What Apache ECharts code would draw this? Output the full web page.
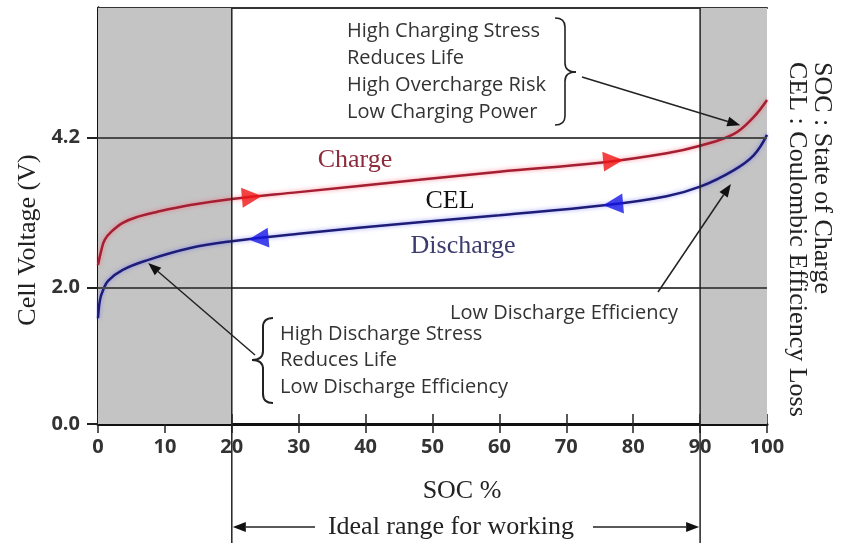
<!DOCTYPE html>
<html>
<head>
<meta charset="utf-8">
<script src="https://cdn.jsdelivr.net/npm/echarts@6/dist/echarts.min.js"></script>
<style>
html, body { margin: 0; padding: 0; background: #fff; }
#chart { width: 845px; height: 545px; }
</style>
</head>
<body>
<div id="chart"></div>
<script>
// SOC (%) / cell voltage (V)
const chargeSoc = [0, 0.5, 1, 2, 3.7, 6, 8.8, 13.8, 20, 30, 48, 60, 75, 85, 90, 95, 98, 100]
const chargeVolt = [2.33, 2.55, 2.70, 2.82, 2.95, 3.04, 3.11, 3.21, 3.30, 3.40, 3.58, 3.70, 3.83, 3.97, 4.08, 4.25, 4.50, 4.75]
const dischargeSoc = [0, 0.3, 0.75, 1.5, 3.7, 7.3, 13.8, 20, 30, 48, 60, 76, 85, 90, 95, 98, 100]
const dischargeVolt = [1.55, 1.82, 1.96, 2.10, 2.26, 2.40, 2.58, 2.68, 2.79, 2.96, 3.06, 3.21, 3.34, 3.48, 3.72, 3.94, 4.24]
// direction triangles sitting on the curves
const chargeArrowSoc = [23, 77]
const chargeArrowVolt = [3.33, 3.86]
const dischargeArrowSoc = [24, 77]
const dischargeArrowVolt = [2.72, 3.22]
// axis ticks and regions
const voltTicks = [0, 2.0, 4.2]
const shadedRanges = [[0, 20], [90, 100]]
const idealRange = [20, 90]
const yMax = 6.1

const zip = (a, b) => a.map((v, i) => [v, b[i]])

let chart = echarts.init(document.getElementById('chart'))

const serif = '"Liberation Serif", "Times New Roman", serif'
const sans = '"Open Sans", sans-serif'

chart.setOption({
    animation: false,
    grid: { left: 98, right: 78, top: 8, bottom: 121, outerBoundsMode: 'none' },
    xAxis: [
        {
            type: 'value', position: 'bottom', min: 0, max: 100, interval: 10,
            axisLine: { lineStyle: { color: '#111', width: 3 } },
            axisTick: { length: 9, lineStyle: { color: '#222', width: 1.5 } },
            axisLabel: { margin: 13, color: '#333', fontSize: 20, fontWeight: 'bold', fontFamily: sans },
            splitLine: { show: false }
        },
        {
            // inner half of the crossing ticks
            type: 'value', position: 'bottom', min: 0, max: 100, interval: 10,
            axisLine: { show: false },
            axisTick: { inside: true, length: 10, lineStyle: { color: '#222', width: 1.5 } },
            axisLabel: { show: false },
            splitLine: { show: false }
        },
        {
            // top border
            type: 'value', position: 'top', min: 0, max: 100,
            axisLine: { lineStyle: { color: '#333', width: 2 } },
            axisTick: { show: false }, axisLabel: { show: false }, splitLine: { show: false }
        }
    ],
    yAxis: [
        {
            type: 'value', position: 'left', min: 0, max: yMax,
            axisLine: { show: true, lineStyle: { color: '#111', width: 3 } },
            axisTick: { show: true, customValues: voltTicks, length: 11, lineStyle: { color: '#222', width: 2 } },
            axisLabel: {
                customValues: voltTicks, margin: 18, color: '#333', fontSize: 20, fontWeight: 'bold', fontFamily: sans,
                formatter: v => v.toFixed(1)
            },
            splitLine: { show: false }
        },
        {
            type: 'value', position: 'right', min: 0, max: yMax,
            axisLine: { show: true, lineStyle: { color: '#111', width: 3 } },
            axisTick: { show: false }, axisLabel: { show: false }, splitLine: { show: false }
        }
    ],
    series: [
        {
            // shaded stress zones + reference voltage lines
            type: 'line', data: [], z: 1, silent: true,
            markArea: {
                silent: true,
                itemStyle: { color: '#c4c4c4' },
                data: shadedRanges.map(r => [{ xAxis: r[0] }, { xAxis: r[1] }])
            },
            markLine: {
                silent: true, symbol: 'none', label: { show: false },
                lineStyle: { color: '#4a4a4a', width: 2, type: 'solid' },
                data: [{ yAxis: voltTicks[1] }, { yAxis: voltTicks[2] }]
            }
        },
        {
            name: 'Charge', type: 'line', z: 3,
            data: zip(chargeSoc, chargeVolt),
            smooth: 0.4, showSymbol: false,
            lineStyle: { color: '#a41f31', width: 2.5, shadowColor: 'rgba(255,90,110,0.7)', shadowBlur: 4 }
        },
        {
            name: 'Discharge', type: 'line', z: 3,
            data: zip(dischargeSoc, dischargeVolt),
            smooth: 0.4, showSymbol: false,
            lineStyle: { color: '#1d1d78', width: 2.5, shadowColor: 'rgba(90,90,255,0.6)', shadowBlur: 4 }
        },
        {
            type: 'scatter', z: 5, silent: true,
            data: zip(chargeArrowSoc, chargeArrowVolt),
            symbol: 'triangle', symbolSize: [20, 20], symbolRotate: -85,
            itemStyle: { color: '#f01515' }
        },
        {
            type: 'scatter', z: 5, silent: true,
            data: zip(dischargeArrowSoc, dischargeArrowVolt),
            symbol: 'triangle', symbolSize: [20, 20], symbolRotate: 95,
            itemStyle: { color: '#1515e6' }
        }
    ]
})

// ---- annotations drawn on top, placed through the axes ----
const px = p => chart.convertToPixel({ gridIndex: 0 }, p)

function arrow(x1, y1, x2, y2) {
    const a = Math.atan2(y2 - y1, x2 - x1)
    const L = 13, W = 5
    const bx = x2 - L * Math.cos(a), by = y2 - L * Math.sin(a)
    return [
        { type: 'line', z: 10, shape: { x1, y1, x2: bx, y2: by }, style: { stroke: '#222', lineWidth: 1.5 } },
        {
            type: 'polygon', z: 10,
            shape: { points: [[x2, y2], [bx + W * Math.sin(a), by - W * Math.cos(a)], [bx - W * Math.sin(a), by + W * Math.cos(a)]] },
            style: { fill: '#111' }
        }
    ]
}

// curly brace: bar at xBar, tip at xTip (middle), ends curl to xEnd
function brace(xEnd, xBar, xTip, yTop, yMid, yBot, width) {
    const st = { stroke: '#222', lineWidth: width, fill: null }
    const r = 9
    const q = (x1, y1, cx, cy, x2, y2) => ({ type: 'bezierCurve', z: 10, shape: { x1, y1, cpx1: cx, cpy1: cy, x2, y2 }, style: st })
    const l = (x1, y1, x2, y2) => ({ type: 'line', z: 10, shape: { x1, y1, x2, y2 }, style: st })
    return [
        q(xEnd, yTop, xBar, yTop, xBar, yTop + r),
        l(xBar, yTop + r, xBar, yMid - r),
        q(xBar, yMid - r, xBar, yMid, xTip, yMid),
        q(xTip, yMid, xBar, yMid, xBar, yMid + r),
        l(xBar, yMid + r, xBar, yBot - r),
        q(xBar, yBot - r, xBar, yBot, xEnd, yBot)
    ]
}

function text(str, x, y, opt) {
    return {
        type: 'text', z: 10, x, y, rotation: opt.rotation || 0,
        style: {
            text: str, fill: opt.color || '#333', fontSize: opt.size || 20, fontFamily: opt.font || sans,
            fontWeight: opt.weight || 'normal', lineHeight: opt.lineHeight,
            align: opt.align || 'center', verticalAlign: opt.valign || 'middle'
        }
    }
}

const topY = px([0, yMax])[1]
const xLo = px([idealRange[0], 0])[0]
const xHi = px([idealRange[1], 0])[0]
const bottomY = 543
const rangeY = 527

// tips of the annotation arrows, on the curves
const tipCharge = px([96, 4.38])
const tipDischargeLow = px([7.5, 2.36])
const tipDischargeHigh = px([94.6, 3.52])

let graphics = [
    { type: 'line', z: 10, shape: { x1: xLo, y1: topY, x2: xLo, y2: bottomY }, style: { stroke: '#222', lineWidth: 1.5 } },
    { type: 'line', z: 10, shape: { x1: xHi, y1: topY, x2: xHi, y2: bottomY }, style: { stroke: '#222', lineWidth: 1.5 } },

    text('High Charging Stress\nReduces Life\nHigh Overcharge Risk\nLow Charging Power', 347, 18,
        { align: 'left', valign: 'top', lineHeight: 27 }),
    ...brace(555, 565, 576, 18, 72, 125, 1.6),
    ...arrow(582, 77, tipCharge[0], tipCharge[1]),

    text('High Discharge Stress\nReduces Life\nLow Discharge Efficiency', 280, 321,
        { align: 'left', valign: 'top', lineHeight: 26.5 }),
    ...brace(273, 263, 252, 318, 360, 403, 2),
    ...arrow(255, 355, tipDischargeLow[0], tipDischargeLow[1]),

    text('Low Discharge Efficiency', 450, 313, { align: 'left' }),
    ...arrow(658, 292, tipDischargeHigh[0], tipDischargeHigh[1]),

    text('Charge', 355, 160, { font: serif, size: 26, color: '#8b2b3b' }),
    text('CEL', 450, 201, { font: serif, size: 26, color: '#111' }),
    text('Discharge', 463, 246, { font: serif, size: 26, color: '#3b3b6e' }),

    text('Cell Voltage (V)', 28, 240, { font: serif, size: 26, color: '#222', rotation: Math.PI / 2 }),
    text('SOC %', 462, 491, { font: serif, size: 26, color: '#222' }),
    text('SOC : State of Charge', 822, 62, { font: serif, size: 26, color: '#222', rotation: -Math.PI / 2, align: 'left' }),
    text('CEL : Coulombic Efficiency Loss', 797, 62, { font: serif, size: 26, color: '#222', rotation: -Math.PI / 2, align: 'left' }),

    text('Ideal range for working', 451, rangeY, { font: serif, size: 26, color: '#222' }),
    ...arrow(315, rangeY, xLo + 1, rangeY),
    ...arrow(593, rangeY, xHi - 1, rangeY)
]

chart.setOption({ graphic: graphics })
</script>
</body>
</html>
